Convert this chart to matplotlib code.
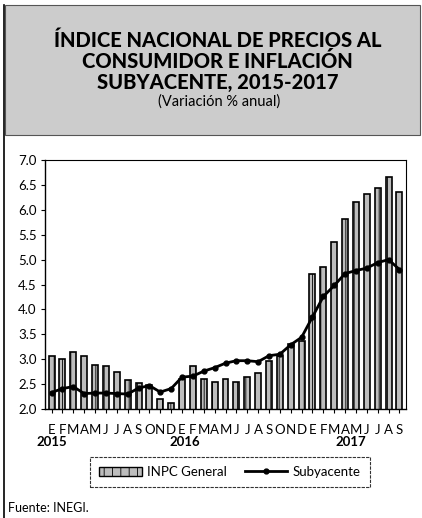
import matplotlib.pyplot as plt
import matplotlib.patches as mpatches
from matplotlib.lines import Line2D
import numpy as np

# Monthly annual inflation, Jan 2015 - Sep 2017
months = ["E", "F", "M", "A", "M", "J", "J", "A", "S", "O", "N", "D"] * 2 + \
         ["E", "F", "M", "A", "M", "J", "J", "A", "S"]
years = ["2015", "2016", "2017"]
inpc_general = [3.07, 3.00, 3.14, 3.06, 2.88, 2.87, 2.74, 2.59, 2.52, 2.48, 2.21, 2.13,
                2.61, 2.87, 2.60, 2.54, 2.60, 2.54, 2.65, 2.73, 2.97, 3.06, 3.31, 3.36,
                4.72, 4.86, 5.35, 5.82, 6.16, 6.31, 6.44, 6.66, 6.35]
subyacente = [2.33, 2.41, 2.45, 2.31, 2.32, 2.32, 2.31, 2.30, 2.42, 2.47, 2.34, 2.41,
              2.64, 2.66, 2.76, 2.83, 2.92, 2.97, 2.97, 2.95, 3.07, 3.10, 3.29, 3.44,
              3.85, 4.26, 4.48, 4.72, 4.78, 4.83, 4.94, 5.00, 4.80]

plt.rcParams['font.family'] = ['Lato', 'DejaVu Sans']
plt.rcParams['hatch.color'] = '#333333'
plt.rcParams['hatch.linewidth'] = 0.6

fig = plt.figure(figsize=(4.22, 5.18), dpi=100)

# title banner
banner = mpatches.Rectangle((5 / 422, 1 - 135 / 518), 415 / 422, 130 / 518,
                            transform=fig.transFigure, facecolor="#cccccc",
                            edgecolor="#555555", linewidth=0.8)
fig.patches.append(banner)
fig.add_artist(Line2D([4 / 422, 4 / 422], [0, 1 - 5 / 518], color="black", lw=1.2))

title_lines = ["ÍNDICE NACIONAL DE PRECIOS AL", "CONSUMIDOR E INFLACIÓN", "SUBYACENTE, 2015-2017"]
for i, line in enumerate(title_lines):
    fig.text(0.515, 1 - (40 + 21.5 * i) / 518, line, ha="center", va="center",
             fontsize=14.5, fontweight="black", color="black")
fig.text(0.52, 1 - 102 / 518, "(Variación % anual)", ha="center", va="center", fontsize=10.5)

ax = fig.add_axes([45 / 422, 1 - 409 / 518, 361 / 422, 249 / 518])
x = np.arange(len(months))
ax.bar(x, inpc_general, width=0.55, color="#bdbdbd", edgecolor="black",
       linewidth=1.2, hatch="||")
ax.plot(x, subyacente, color="black", lw=2, marker="o", markersize=3.5)

ax.set_ylim(2.0, 7.0)
ax.set_xlim(-0.6, len(months) - 0.4)
ax.set_yticks(np.arange(2.0, 7.01, 0.5))
ax.set_yticklabels([f"{v:.1f}" for v in np.arange(2.0, 7.01, 0.5)], fontsize=9.5)
ax.set_xticks(x)
ax.set_xticklabels(months, fontsize=9.5)
ax.tick_params(axis="x", length=3, pad=8)
ax.tick_params(axis="y", length=3, pad=3)
for side in ["top", "right"]:
    ax.spines[side].set_linestyle((0, (3, 1)))
    ax.spines[side].set_linewidth(0.8)
for side in ["left", "bottom"]:
    ax.spines[side].set_linewidth(1.0)

for yr, pos in zip(years, [0, 12.3, 27.5]):
    ax.text(pos, -0.11, yr, transform=ax.get_xaxis_transform(), ha="center", va="top",
            fontsize=9.5, fontweight="bold")

handles = [mpatches.Patch(facecolor="#bdbdbd", edgecolor="black", hatch="||"),
           Line2D([], [], color="black", lw=2, marker="o", markersize=3.5)]
leg = fig.legend(handles, ["INPC General", "Subyacente"], loc="center",
                 bbox_to_anchor=(230 / 422, 1 - 472 / 518), ncol=2, fontsize=9.5,
                 frameon=True, fancybox=False, handlelength=3.2, handletextpad=0.4,
                 columnspacing=1.4, borderpad=0.7)
leg.get_frame().set_edgecolor("black")
leg.get_frame().set_linestyle((0, (3, 1)))
leg.get_frame().set_linewidth(0.8)

fig.text(8 / 422, 1 - 508 / 518, "Fuente: INEGI.", ha="left", va="center", fontsize=9)

plt.savefig("out.png", dpi=100)
plt.close()
